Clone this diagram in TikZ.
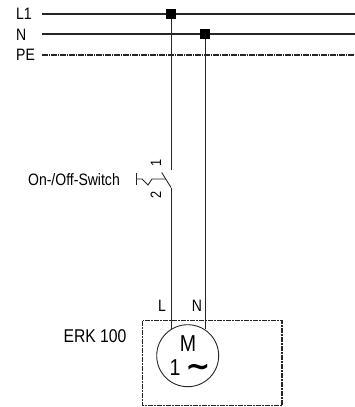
\documentclass[tikz,border=0pt]{standalone}
\usepackage{fontspec}
\setmainfont[FakeStretch=0.85]{Liberation Sans}
\newfontfamily\symfont{DejaVu Sans}
\tikzset{
  wire/.style={line width=0.9pt,draw=black!85},
  bus/.style={line width=1.3pt,draw=black!85},
  pe/.style={line width=1.5pt,draw=black!85,dash pattern=on 5.5pt off 1pt on 1.5pt off 1pt},
  encl/.style={line width=1.5pt,draw=black!85,dash pattern=on 5.5pt off 1pt on 1.5pt off 1pt},
  dot/.style={fill=black,inner sep=0pt,minimum size=10pt,shape=rectangle},
  lbl/.style={inner sep=0pt,font=\fontsize{16.5}{16.5}\selectfont,text=black},
  big/.style={inner sep=0pt,font=\fontsize{23}{23}\selectfont,text=black}
}
\begin{document}
\begin{tikzpicture}[x=1pt,y=-1pt]
\useasboundingbox (0,0) rectangle (355,407);
% labels
\node[lbl,anchor=west] (tl) at (16,14) {L1};
\node[lbl,anchor=west] (tn) at (16,35) {N};
\node[lbl,anchor=west] (tp) at (16,55) {PE};
% bus ends
\coordinate (l1a) at (42,14); \coordinate (l1b) at (355,14);
\coordinate (na) at (42,34); \coordinate (nb) at (355,34);
\coordinate (pa) at (42,55); \coordinate (pb) at (355,55);
\draw[bus] (l1a) -- (l1b);
\draw[bus] (na) -- (nb);
\draw[pe] (pa) -- (pb);
\node[dot] (j1) at (171,14) {};
\node[dot] (j2) at (205,34) {};
% motor and enclosure
\draw[encl] (142.7,320.7) rectangle (282,405.7);
\node[circle,draw=black!85,line width=0.9pt,minimum size=62pt,inner sep=0pt] (m) at (187.7,355.7) {};
\coordinate (mL) at (171,329);
\coordinate (mN) at (205,329);
\coordinate (sTop) at (171,170);
\coordinate (sBot) at (171,187.5);
\coordinate (sBlade) at (161.7,172.5);
\draw[wire] (j1) -- (sTop);
\draw[wire] (sBot) -- (mL);
\draw[wire] (j2) -- (mN);
\draw[wire] (sBlade) -- (sBot);
% actuator
\draw[wire] (136,173) -- (136,185);
\draw[wire] (136,179) -- (142,179) -- (148,185) -- (152,179) -- (166,179);
\node[lbl,rotate=90,font=\fontsize{15}{15}\selectfont] (n1) at (156,163) {1};
\node[lbl,rotate=90,font=\fontsize{15}{15}\selectfont] (n2) at (156,195) {2};
\node[lbl,anchor=east] (sw) at (120,180) {On-/Off-Switch};
\node[lbl] (L) at (162,305.5) {L};
\node[lbl] (N) at (197,305.5) {N};
\node[lbl,font=\fontsize{18.5}{18.5}\selectfont] (erk) at (95,336.5) {ERK 100};
\node[big] (M) at (188,344) {M};
\node[big] (one) at (175,367.5) {1};
\node[inner sep=0pt,font=\fontsize{30}{30}\symfont\bfseries,text=black] (tilde) at (198,370) {\symbol{"223C}};
\end{tikzpicture}
\end{document}
